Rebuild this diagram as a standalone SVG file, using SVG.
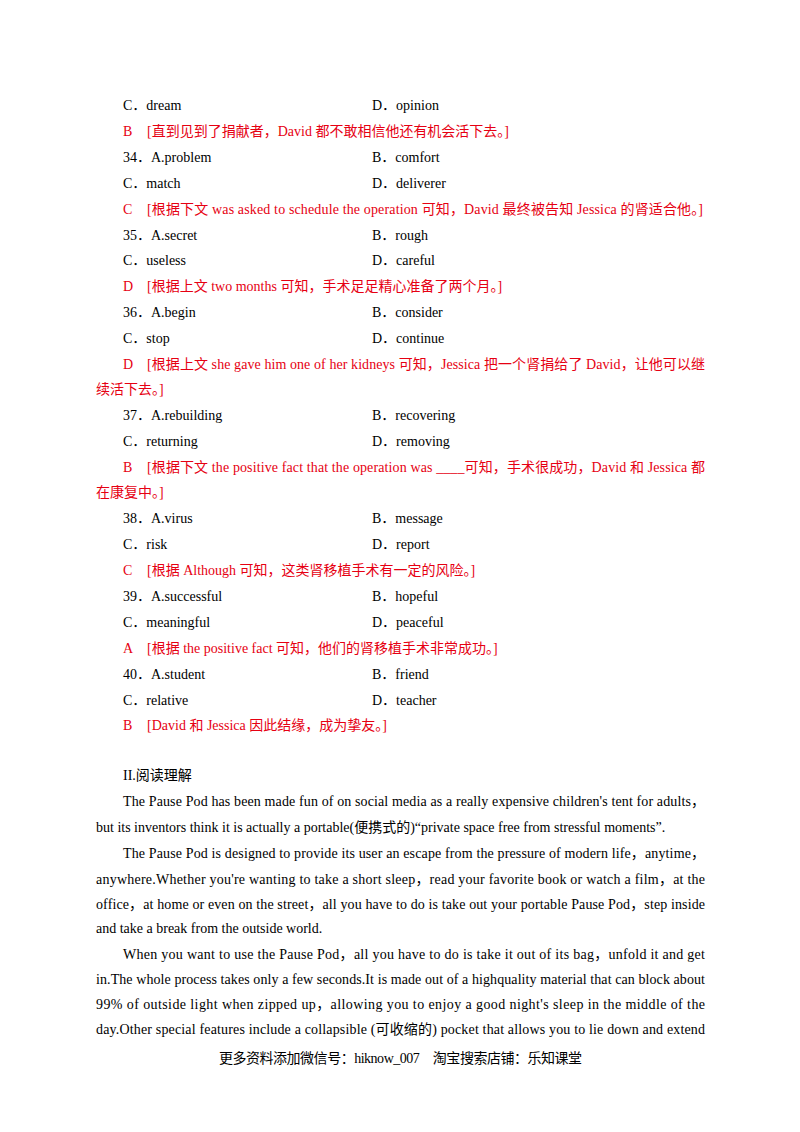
<svg xmlns="http://www.w3.org/2000/svg" width="800" height="1132" viewBox="0 0 800 1132">
<style>
text{font-family:"Liberation Serif","Noto Sans CJK SC",serif;font-size:14px;fill:#000}
.r{fill:#e60012}
</style>
<rect width="800" height="1132" fill="#fff"/>
<g id="options">
<text x="123" y="110">C．dream</text><text x="372" y="110">D．opinion</text>
<text class="r" x="123" y="136">B<tspan x="147">[直到见到了捐献者，David 都不敢相信他还有机会活下去。]</tspan></text>
<text x="123" y="162">34．A.problem</text><text x="372" y="162">B．comfort</text>
<text x="123" y="188">C．match</text><text x="372" y="188">D．deliverer</text>
<text class="r" x="123" y="214">C<tspan x="147" textLength="556" lengthAdjust="spacing">[根据下文 was asked to schedule the operation 可知，David 最终被告知 Jessica 的肾适合他。]</tspan></text>
<text x="123" y="240">35．A.secret</text><text x="372" y="240">B．rough</text>
<text x="123" y="265">C．useless</text><text x="372" y="265">D．careful</text>
<text class="r" x="123" y="291">D<tspan x="147">[根据上文 two months 可知，手术足足精心准备了两个月。]</tspan></text>
<text x="123" y="317">36．A.begin</text><text x="372" y="317">B．consider</text>
<text x="123" y="343">C．stop</text><text x="372" y="343">D．continue</text>
<text class="r" x="123" y="369">D<tspan x="147" textLength="558" lengthAdjust="spacing">[根据上文 she gave him one of her kidneys 可知，Jessica 把一个肾捐给了 David，让他可以继</tspan></text>
<text class="r" x="96" y="394">续活下去。]</text>
<text x="123" y="420">37．A.rebuilding</text><text x="372" y="420">B．recovering</text>
<text x="123" y="446">C．returning</text><text x="372" y="446">D．removing</text>
<text class="r" x="123" y="472">B<tspan x="147" textLength="558" lengthAdjust="spacing">[根据下文 the positive fact that the operation was ____可知，手术很成功，David 和 Jessica 都</tspan></text>
<text class="r" x="96" y="497">在康复中。]</text>
<text x="123" y="523">38．A.virus</text><text x="372" y="523">B．message</text>
<text x="123" y="549">C．risk</text><text x="372" y="549">D．report</text>
<text class="r" x="123" y="575">C<tspan x="147">[根据 Although 可知，这类肾移植手术有一定的风险。]</tspan></text>
<text x="123" y="601">39．A.successful</text><text x="372" y="601">B．hopeful</text>
<text x="123" y="627">C．meaningful</text><text x="372" y="627">D．peaceful</text>
<text class="r" x="123" y="653">A<tspan x="147">[根据 the positive fact 可知，他们的肾移植手术非常成功。]</tspan></text>
<text x="123" y="679">40．A.student</text><text x="372" y="679">B．friend</text>
<text x="123" y="705">C．relative</text><text x="372" y="705">D．teacher</text>
<text class="r" x="123" y="730">B<tspan x="147">[David 和 Jessica 因此结缘，成为挚友。]</tspan></text>
</g>
<g id="reading">
<text x="123" y="780">II.阅读理解</text>
<text x="123" y="806" textLength="582" lengthAdjust="spacing">The Pause Pod has been made fun of on social media as a really expensive children's tent for adults，</text>
<text x="96" y="832">but its inventors think it is actually a portable(便携式的)“private space free from stressful moments”.</text>
<text x="123" y="858" textLength="582" lengthAdjust="spacing">The Pause Pod is designed to provide its user an escape from the pressure of modern life，anytime，</text>
<text x="96" y="884" textLength="609" lengthAdjust="spacing">anywhere.Whether you're wanting to take a short sleep，read your favorite book or watch a film，at the</text>
<text x="96" y="909" textLength="609" lengthAdjust="spacing">office，at home or even on the street，all you have to do is take out your portable Pause Pod，step inside</text>
<text x="96" y="933">and take a break from the outside world.</text>
<text x="123" y="959" textLength="582" lengthAdjust="spacing">When you want to use the Pause Pod，all you have to do is take it out of its bag，unfold it and get</text>
<text x="96" y="984" textLength="609" lengthAdjust="spacing">in.The whole process takes only a few seconds.It is made out of a highquality material that can block about</text>
<text x="96" y="1009" textLength="609" lengthAdjust="spacing">99% of outside light when zipped up，allowing you to enjoy a good night's sleep in the middle of the</text>
<text x="96" y="1034" textLength="609" lengthAdjust="spacing">day.Other special features include a collapsible (可收缩的) pocket that allows you to lie down and extend</text>
</g>
<text x="219" y="1063" textLength="363" lengthAdjust="spacing">更多资料添加微信号：hiknow_007　淘宝搜索店铺：乐知课堂</text>
</svg>
